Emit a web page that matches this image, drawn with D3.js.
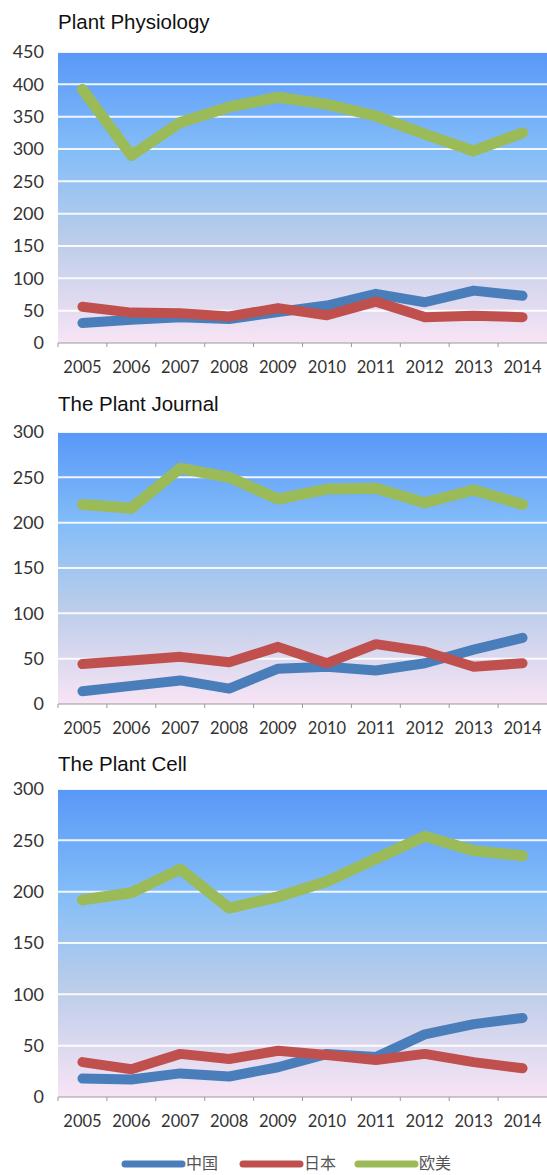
<!DOCTYPE html>
<html>
<head>
<meta charset="utf-8">
<script src="https://cdn.jsdelivr.net/npm/d3@7"></script>
<style>
  body { margin: 0; background: #fff; }
  .tick text { font-family: Lato, "Open Sans", sans-serif; fill: #333; }
  .x-axis .tick text { font-size: 16.5px; }
  .y-axis .tick text { font-size: 18px; }
  .title { font-family: "Liberation Sans", Arial, sans-serif; font-size: 20.5px; fill: #111; }
  .legend text { font-family: "Noto Sans CJK SC", sans-serif; font-size: 16px; fill: #555; }
</style>
</head>
<body>
<div id="chart"></div>
<script>
// publications per year, three journals, three regions
const years = ['2005','2006','2007','2008','2009','2010','2011','2012','2013','2014']
const series = ['中国', '日本', '欧美']

const ppChina  = [31, 36, 40, 37, 48, 58, 76, 63, 81, 73]
const ppJapan  = [56, 47, 46, 41, 54, 43, 64, 40, 42, 40]
const ppWest   = [392, 290, 341, 365, 380, 369, 351, 323, 297, 325]

const pjChina  = [14, 20, 26, 17, 39, 41, 37, 45, 60, 73]
const pjJapan  = [44, 48, 52, 46, 63, 45, 66, 58, 41, 45]
const pjWest   = [220, 216, 260, 250, 226, 237, 238, 222, 236, 220]

const pcChina  = [18, 17, 23, 20, 29, 42, 39, 61, 71, 77]
const pcJapan  = [34, 27, 42, 37, 45, 41, 36, 42, 34, 28]
const pcWest   = [192, 199, 222, 184, 195, 210, 232, 254, 240, 235]

const yTicks450 = [0, 50, 100, 150, 200, 250, 300, 350, 400, 450]
const yTicks300 = [0, 50, 100, 150, 200, 250, 300]

const colors = ['#4a7ebb', '#c0504d', '#9bbb59']

const panels = [
  { title: 'Plant Physiology', data: [ppChina, ppJapan, ppWest], max: 450, ticks: yTicks450, top: 52, bottom: 343, titleY: 29 },
  { title: 'The Plant Journal', data: [pjChina, pjJapan, pjWest], max: 300, ticks: yTicks300, top: 432, bottom: 704, titleY: 411 },
  { title: 'The Plant Cell', data: [pcChina, pcJapan, pcWest], max: 300, ticks: yTicks300, top: 789, bottom: 1097, titleY: 771 }
]

const width = 547
const height = 1175
const left = 58

const svg = d3.select('#chart').append('svg')
    .attr('width', width)
    .attr('height', height)

const defs = svg.append('defs')
const grad = defs.append('linearGradient')
    .attr('id', 'bg')
    .attr('x1', 0).attr('y1', 0).attr('x2', 0).attr('y2', 1)
grad.append('stop').attr('offset', '0%').attr('stop-color', '#5898f8')
grad.append('stop').attr('offset', '35%').attr('stop-color', '#85bef8')
grad.append('stop').attr('offset', '65%').attr('stop-color', '#bccde9')
grad.append('stop').attr('offset', '100%').attr('stop-color', '#f8e4f5')

const xScale = d3.scaleBand()
    .domain(years)
    .range([left, width])

panels.forEach(p => {
    const g = svg.append('g')

    const yScale = d3.scaleLinear()
        .domain([0, p.max])
        .range([p.bottom, p.top])

    g.append('rect')
        .attr('x', left)
        .attr('y', p.top)
        .attr('width', width - left)
        .attr('height', p.bottom - p.top)
        .attr('fill', 'url(#bg)')

    // white grid lines
    g.selectAll('.grid')
        .data(p.ticks.filter(t => t > 0))
        .join('line')
        .attr('x1', left)
        .attr('x2', width)
        .attr('y1', d => yScale(d))
        .attr('y2', d => yScale(d))
        .attr('stroke', '#fff')
        .attr('stroke-width', 2)
        .attr('opacity', 0.9)

    const yAxis = d3.axisLeft(yScale)
        .tickValues(p.ticks)
        .tickSize(0)
        .tickPadding(14)
    g.append('g')
        .attr('class', 'y-axis')
        .attr('transform', `translate(${left},0)`)
        .call(yAxis)
        .call(a => a.select('.domain').remove())

    // x axis, tick marks at the band edges
    const xAxis = d3.axisBottom(xScale).tickSize(0).tickPadding(18)
    const xg = g.append('g')
        .attr('class', 'x-axis')
        .attr('transform', `translate(0,${p.bottom})`)
        .call(xAxis)
    xg.select('.domain').attr('stroke', '#999').attr('d', `M${left},0H${width}`)
    xg.selectAll('.edge')
        .data(years)
        .join('line')
        .attr('x1', d => xScale(d))
        .attr('x2', d => xScale(d))
        .attr('y1', 0)
        .attr('y2', 4)
        .attr('stroke', '#999')

    g.append('text')
        .attr('class', 'title')
        .attr('x', left)
        .attr('y', p.titleY)
        .text(p.title)

    const line = d3.line()
        .x((d, i) => xScale(years[i]) + xScale.bandwidth() / 2)
        .y(d => yScale(d))

    // red sits on top of blue
    const order = [2, 0, 1]
    order.forEach(k => {
        g.append('path')
            .datum(p.data[k])
            .attr('d', line)
            .attr('fill', 'none')
            .attr('stroke', colors[k])
            .attr('stroke-width', k == 2 ? 11 : 10)
            .attr('stroke-linecap', 'round')
            .attr('stroke-linejoin', 'round')
    })
})

// legend
const legendX = [125, 243, 358]
const legendY = 1164
const legend = svg.append('g').attr('class', 'legend')
series.forEach((s, i) => {
    legend.append('line')
        .attr('x1', legendX[i])
        .attr('x2', legendX[i] + 57)
        .attr('y1', legendY)
        .attr('y2', legendY)
        .attr('stroke', colors[i])
        .attr('stroke-width', 7)
        .attr('stroke-linecap', 'round')
    legend.append('text')
        .attr('x', legendX[i] + 61)
        .attr('y', legendY + 5)
        .text(s)
})
</script>
</body>
</html>
